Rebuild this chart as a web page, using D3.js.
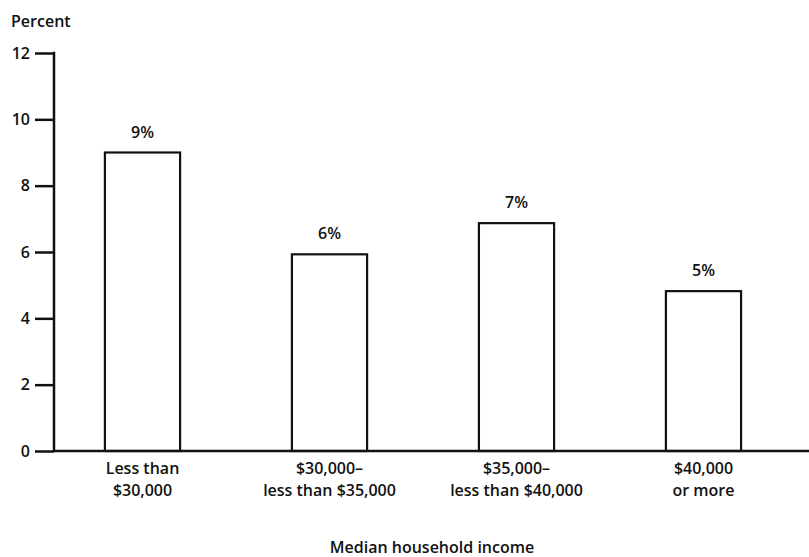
<!DOCTYPE html>
<html>
<head>
<meta charset="utf-8">
<script src="https://cdn.jsdelivr.net/npm/d3@7"></script>
<style>
  body { margin: 0; background: #fff; }
  text { font-family: "Open Sans", "Noto Sans", sans-serif; fill: #111; font-weight: 600; }
</style>
</head>
<body>
<svg id="chart" width="809" height="557"></svg>
<script>
const categories = ["Less than|$30,000", "$30,000–|less than $35,000", "$35,000–|less than $40,000", "$40,000|or more"];
const values = [9.0, 5.93, 6.87, 4.82];
const valueLabels = ["9%", "6%", "7%", "5%"];
const yTicks = [0, 2, 4, 6, 8, 10, 12];

const FONT = '"Open Sans", "Noto Sans", sans-serif';
const svg = d3.select("#chart");
const x = d3.scaleBand().domain(categories).range([49, 797]).paddingInner(0.598).paddingOuter(0.299);
const y = d3.scaleLinear().domain([0, 12]).range([451, 53]);

// bars
svg.selectAll("rect.bar").data(values).join("rect")
  .attr("class", "bar")
  .attr("x", (d, i) => x(categories[i]))
  .attr("y", d => y(d))
  .attr("width", x.bandwidth())
  .attr("height", d => y(0) - y(d))
  .attr("fill", "#fff").attr("stroke", "#111").attr("stroke-width", 2.2);

// value labels
svg.selectAll("text.val").data(values).join("text")
  .attr("class", "val")
  .attr("x", (d, i) => x(categories[i]) + x.bandwidth() / 2)
  .attr("y", d => y(d) - 15)
  .attr("text-anchor", "middle").attr("font-size", 16)
  .text((d, i) => valueLabels[i]);

// y axis
const yAxis = d3.axisLeft(y).tickValues(yTicks).tickSize(19).tickPadding(5);
const gy = svg.append("g").attr("transform", "translate(54,0)").call(yAxis);
gy.select(".domain").remove();
gy.selectAll(".tick line").attr("stroke", "#111").attr("stroke-width", 2.5);
gy.selectAll(".tick text").attr("font-size", 16).attr("fill", "#111")
  .style("font-family", FONT).style("font-weight", 600);
svg.append("line").attr("x1", 54).attr("x2", 54).attr("y1", y(12) - 1.2).attr("y2", y(0))
  .attr("stroke", "#111").attr("stroke-width", 2.5);

// x axis
const xAxis = d3.axisBottom(x).tickSize(0).tickFormat("");
const gx = svg.append("g").attr("transform", `translate(0,${y(0)})`).call(xAxis);
gx.select(".domain").remove();
svg.append("line").attr("x1", 54).attr("x2", 809).attr("y1", y(0)).attr("y2", y(0))
  .attr("stroke", "#111").attr("stroke-width", 2.5);

// category labels
categories.forEach(c => {
  const lines = c.split("|");
  const cx = x(c) + x.bandwidth() / 2;
  const t = svg.append("text")
    .attr("x", cx).attr("y", 474)
    .attr("text-anchor", "middle").attr("font-size", 16);
  lines.forEach((l, j) => t.append("tspan").attr("x", cx).attr("dy", j ? 22 : 0).text(l));
});

svg.append("text").attr("x", 11).attr("y", 27).attr("font-size", 16).text("Percent");
svg.append("text").attr("x", 432).attr("y", 553).attr("text-anchor", "middle").attr("font-size", 16)
  .text("Median household income");
</script>
</body>
</html>
